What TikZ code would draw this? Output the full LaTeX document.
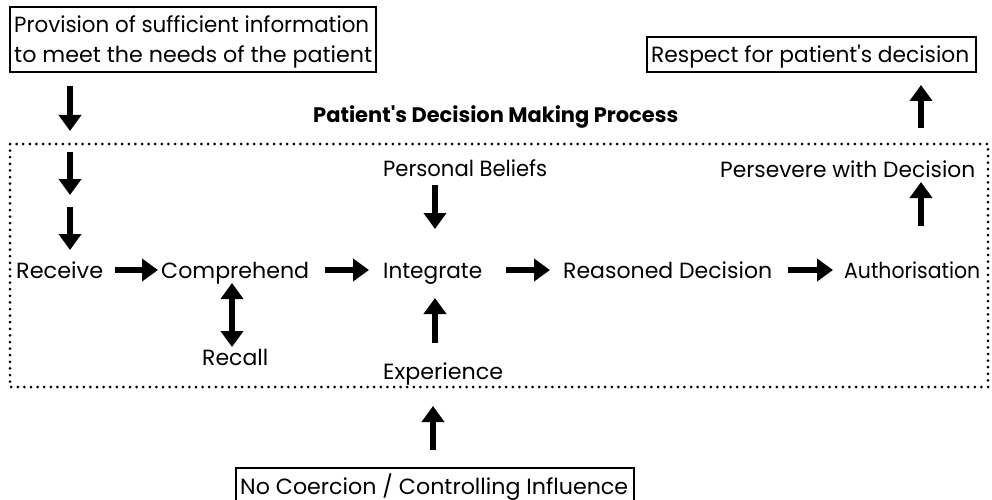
\documentclass[tikz,border=0pt]{standalone}
\usepackage{fontspec}
\usepackage{graphicx}
\setmainfont{Poppins}[Ligatures=TeXOff]
\usetikzlibrary{arrows.meta}
\newcommand\fitw[2]{\resizebox{#1pt}{\height}{#2}}
\begin{document}
\begin{tikzpicture}[x=1pt,y=-1pt,
  lbl/.style={inner sep=0pt,anchor=base west,font=\fontsize{22}{30}\selectfont},
  boxed/.style={draw,line width=1.3pt},
  bigarrow/.style={line width=5.5pt,-{Triangle[length=16pt,width=22pt]}},
  dblarrow/.style={line width=5.5pt,{Triangle[length=16pt,width=22pt]}-{Triangle[length=16pt,width=22pt]}},
  dotted box/.style={line width=3pt,line cap=round,dash pattern=on 0pt off 6.6pt}]
\useasboundingbox (0,0) rectangle (992,500);
\clip (0,0) rectangle (992,500);
\fill[white] (0,0) rectangle (992,500);
% frames
\draw[boxed] (10,7) rectangle (376,72);
\draw[boxed] (647,37) rectangle (976,72);
\draw[boxed] (236,468) rectangle (634,510);
\draw[dotted box] (10,144) rectangle (988,387);
% texts
\node[lbl] (prov1) at (14,33) {\fitw{355}{Provision of sufficient information}};
\node[lbl] (prov2) at (14,63) {\fitw{358}{to meet the needs of the patient}};
\node[lbl] (resp) at (651,63) {\fitw{318}{Respect for patient's decision}};
\node[lbl,font=\fontsize{21}{26}\selectfont\bfseries] (title) at (313,123) {\fitw{365}{Patient's Decision Making Process}};
\node[lbl] (rec) at (16,278) {\fitw{87}{Receive}};
\node[lbl] (comp) at (161,278) {\fitw{148}{Comprehend}};
\node[lbl] (integ) at (383,278) {\fitw{99}{Integrate}};
\node[lbl] (reas) at (563,278) {\fitw{209}{Reasoned Decision}};
\node[lbl] (auth) at (844,278) {\fitw{136}{Authorisation}};
\node[lbl] (recall) at (202,365) {\fitw{66}{Recall}};
\node[lbl] (pb) at (383,176) {\fitw{164}{Personal Beliefs}};
\node[lbl] (pers) at (720,177) {\fitw{255}{Persevere with Decision}};
\node[lbl] (exp) at (383,379) {\fitw{120}{Experience}};
\node[lbl] (coer) at (240,494) {\fitw{388}{No Coercion / Controlling Influence}};
% helper coordinates
\coordinate (a1s) at (70,86);  \coordinate (a1e) at (70,131);
\coordinate (a2s) at (70,152); \coordinate (a2e) at (70,195);
\coordinate (a3s) at (70,207); \coordinate (a3e) at (70,250);
\coordinate (r1s) at (115,270); \coordinate (r1e) at (158,270);
\coordinate (r2s) at (325,270); \coordinate (r2e) at (369,270);
\coordinate (r3s) at (506,270); \coordinate (r3e) at (550,270);
\coordinate (r4s) at (788,270); \coordinate (r4e) at (833,270);
\coordinate (d1s) at (232,283); \coordinate (d1e) at (232,347);
\coordinate (pbs) at (435,185); \coordinate (pbe) at (435,229);
\coordinate (exs) at (435,343); \coordinate (exe) at (435,298);
\coordinate (cos) at (433,450); \coordinate (coe) at (433,406);
\coordinate (aus) at (921,226); \coordinate (aue) at (921,182);
\coordinate (pes) at (921,128); \coordinate (pee) at (921,85);
% arrows
\draw[bigarrow] (a1s) -- (a1e);
\draw[bigarrow] (a2s) -- (a2e);
\draw[bigarrow] (a3s) -- (a3e);
\draw[bigarrow] (r1s) -- (r1e);
\draw[bigarrow] (r2s) -- (r2e);
\draw[bigarrow] (r3s) -- (r3e);
\draw[bigarrow] (r4s) -- (r4e);
\draw[dblarrow] (d1s) -- (d1e);
\draw[bigarrow] (pbs) -- (pbe);
\draw[bigarrow] (exs) -- (exe);
\draw[bigarrow] (cos) -- (coe);
\draw[bigarrow] (aus) -- (aue);
\draw[bigarrow] (pes) -- (pee);
\end{tikzpicture}
\end{document}
